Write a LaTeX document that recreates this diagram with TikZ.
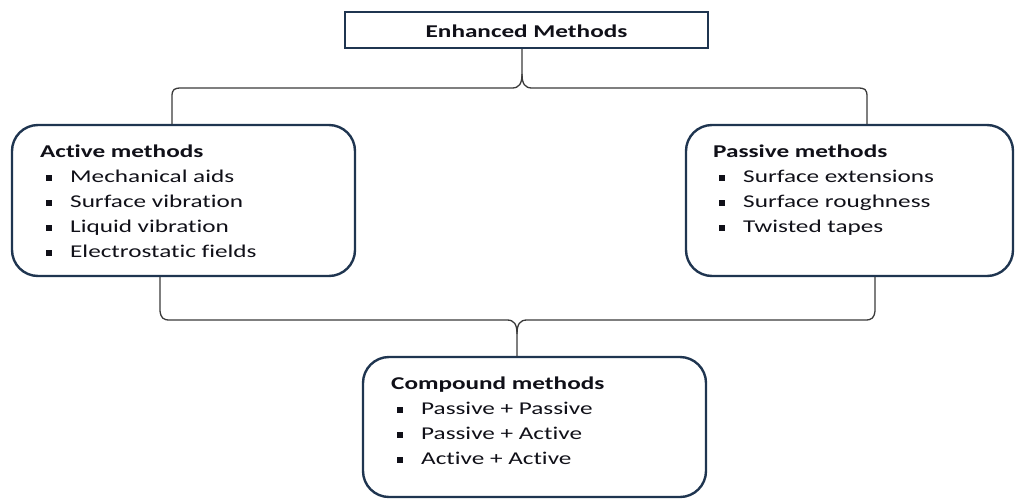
\documentclass[tikz,border=0pt]{standalone}
\usepackage{fontspec}
\setmainfont[FakeStretch=1.4, RawFeature={-liga}]{Carlito}
\usetikzlibrary{calc}
\definecolor{boxblue}{HTML}{1F3550}
\definecolor{bracegray}{HTML}{3A3A3A}
\definecolor{txt}{HTML}{101018}
\newcommand\bul{\hspace*{6pt}\rule[2pt]{6pt}{6pt}\hspace{18pt}}
\tikzset{
  rbox/.style={draw=boxblue, line width=2.4pt, rounded corners=26pt, fill=white},
  sbox/.style={draw=boxblue, line width=2.4pt, fill=white},
  listtext/.style={anchor=north west, inner sep=0pt, align=left, text=txt,
    font=\fontsize{18}{25}\selectfont},
  brace/.style={draw=bracegray, line width=1.3pt},
}
\begin{document}
\begin{tikzpicture}[x=1pt,y=-1pt]
\useasboundingbox (0,0) rectangle (1016,498);
% boxes
\draw[sbox] (345,12) rectangle (708,48);
\node[text=txt, font=\bfseries\fontsize{18}{22}\selectfont] (enh) at (526.5,31) {Enhanced Methods};
\coordinate (enhb) at (522,49);

\draw[rbox] (12,125) rectangle (355,276);
\coordinate (acttop) at (172,124);
\coordinate (actbot) at (160,277);
\node[listtext] (act) at (40,145) {\textbf{Active methods}\\
\bul Mechanical aids\\
\bul Surface vibration\\
\bul Liquid vibration\\
\bul Electrostatic fields};

\draw[rbox] (686,125) rectangle (1013,276);
\coordinate (pastop) at (867,124);
\coordinate (pasbot) at (875,277);
\node[listtext] (pas) at (713,145) {\textbf{Passive methods}\\
\bul Surface extensions\\
\bul Surface roughness\\
\bul Twisted tapes};

\draw[rbox] (363,357) rectangle (706,497);
\coordinate (comtop) at (517,356);
\node[listtext] (com) at (391,377) {\textbf{Compound methods}\\
\bul Passive + Passive\\
\bul Passive + Active\\
\bul Active + Active};

% top brace
\draw[brace] (acttop) -- (172,97) .. controls (172,89) and (174,88) .. (182,88)
  -- (512,88) .. controls (519,88) and (522,84) .. (522,74) -- (enhb);
\draw[brace] (pastop) -- (867,97) .. controls (867,89) and (865,88) .. (857,88)
  -- (532,88) .. controls (525,88) and (522,84) .. (522,74);
% bottom brace
\draw[brace] (actbot) -- (160,311) .. controls (161,318) and (163,320) .. (170,320)
  -- (507,320) .. controls (514,320) and (517,324) .. (517,334) -- (comtop);
\draw[brace] (pasbot) -- (875,311) .. controls (874,318) and (872,320) .. (865,320)
  -- (527,320) .. controls (520,320) and (517,324) .. (517,334);
\end{tikzpicture}
\end{document}
